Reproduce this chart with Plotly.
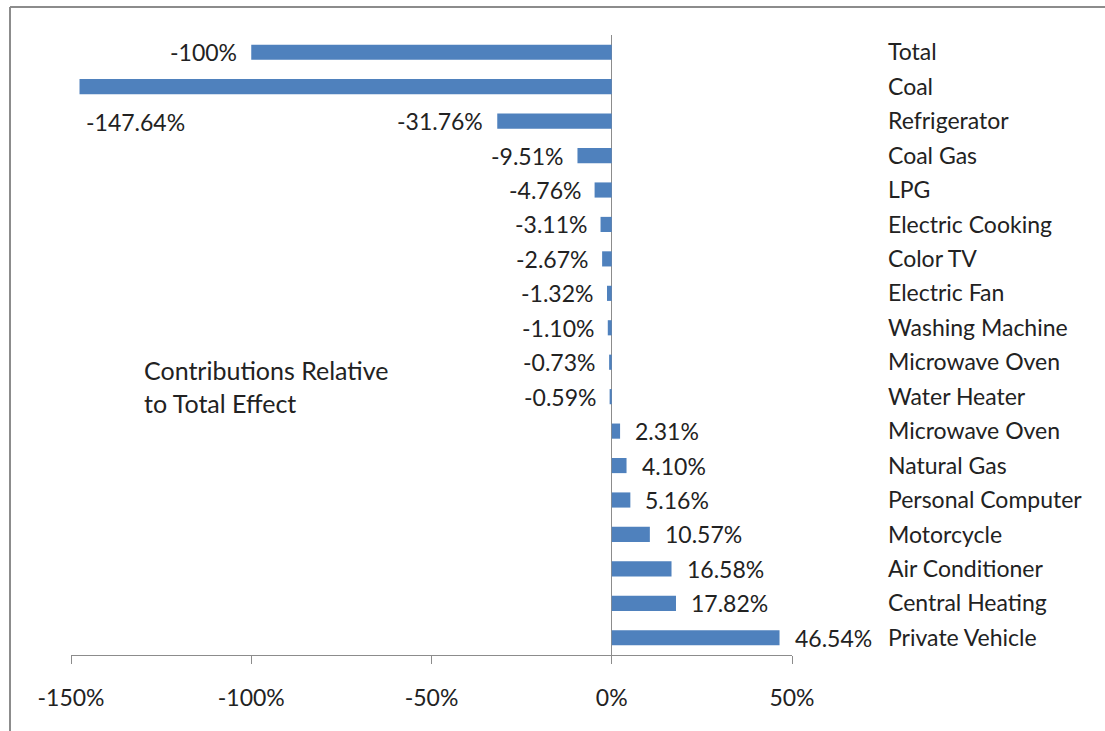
import plotly.graph_objects as go

categories = ["Total", "Coal", "Refrigerator", "Coal Gas", "LPG", "Electric Cooking",
              "Color TV", "Electric Fan", "Washing Machine", "Microwave Oven",
              "Water Heater", "Microwave Oven", "Natural Gas", "Personal Computer",
              "Motorcycle", "Air Conditioner", "Central Heating", "Private Vehicle"]
values = [-100, -147.64, -31.76, -9.51, -4.76, -3.11, -2.67, -1.32, -1.10, -0.73,
          -0.59, 2.31, 4.10, 5.16, 10.57, 16.58, 17.82, 46.54]
value_labels = ["-100%", "-147.64%", "-31.76%", "-9.51%", "-4.76%", "-3.11%", "-2.67%",
                "-1.32%", "-1.10%", "-0.73%", "-0.59%", "2.31%", "4.10%", "5.16%",
                "10.57%", "16.58%", "17.82%", "46.54%"]
x_ticks = [-150, -100, -50, 0, 50]
x_tick_labels = ["-150%", "-100%", "-50%", "0%", "50%"]

FONT = "Lato"
FS = 23
TXT = "#222222"
GRAY = "#8c8c8c"

positions = list(range(len(categories)))

fig = go.Figure()
fig.add_trace(go.Bar(
    x=values, y=positions, orientation="h", width=0.44,
    marker=dict(color="#4F81BD", line=dict(width=0)),
    hoverinfo="skip", showlegend=False,
))

annotations = []
for i, (v, lab) in enumerate(zip(values, value_labels)):
    if categories[i] == "Coal":
        annotations.append(dict(x=v, y=i, xref="x", yref="y", text=lab, showarrow=False,
                                xanchor="left", yanchor="middle", xshift=4, yshift=-35,
                                font=dict(family=FONT, size=FS, color=TXT)))
    elif v < 0:
        annotations.append(dict(x=v, y=i, xref="x", yref="y", text=lab, showarrow=False,
                                xanchor="right", yanchor="middle", xshift=-12,
                                font=dict(family=FONT, size=FS, color=TXT)))
    else:
        annotations.append(dict(x=v, y=i, xref="x", yref="y", text=lab, showarrow=False,
                                xanchor="left", yanchor="middle", xshift=13,
                                font=dict(family=FONT, size=FS, color=TXT)))

annotations.append(dict(x=(142 - 71) / 721, y=(655 - 386) / 620, xref="paper", yref="paper",
                        text="Contributions Relative<br>to Total Effect", showarrow=False,
                        xanchor="left", yanchor="middle", align="left",
                        font=dict(family=FONT, size=25, color=TXT)))

L, R, T, B = 71, 792, 35, 655
W, H = 1105, 731
def px(x):
    return (x - L) / (R - L)
def py(y):
    return (B - y) / (B - T)

shapes = [
    dict(type="line", xref="paper", yref="paper", x0=px(10), x1=px(10), y0=py(H + 5), y1=py(7),
         line=dict(color=GRAY, width=2)),
    dict(type="line", xref="paper", yref="paper", x0=px(10), x1=px(W + 5), y0=py(7), y1=py(7),
         line=dict(color=GRAY, width=2)),
]

fig.update_layout(
    width=W, height=H,
    margin=dict(l=L, r=W - R, t=T, b=H - B, pad=0),
    paper_bgcolor="white", plot_bgcolor="white",
    font=dict(family=FONT, size=FS, color=TXT),
    annotations=annotations, shapes=shapes,
    bargap=0.56,
)
fig.update_xaxes(
    range=[-150, 50], tickvals=x_ticks, ticktext=x_tick_labels,
    showgrid=False, zeroline=True, zerolinecolor=GRAY, zerolinewidth=1,
    showline=True, linecolor=GRAY, linewidth=1,
    ticks="outside", ticklen=8, tickcolor=GRAY, tickwidth=1,
    ticklabelstandoff=14, tickfont=dict(family=FONT, size=FS, color=TXT),
    fixedrange=True,
)
fig.update_yaxes(
    range=[len(categories) - 0.5, -0.5], tickvals=positions, ticktext=categories,
    side="right", showgrid=False, zeroline=False, showline=False, ticks="",
    ticklabelstandoff=95, tickfont=dict(family=FONT, size=FS, color=TXT),
    fixedrange=True,
)

fig.write_html("out.html", config={"displayModeBar": False},
               post_script="document.body.style.margin='0';document.body.style.overflow='hidden';")
